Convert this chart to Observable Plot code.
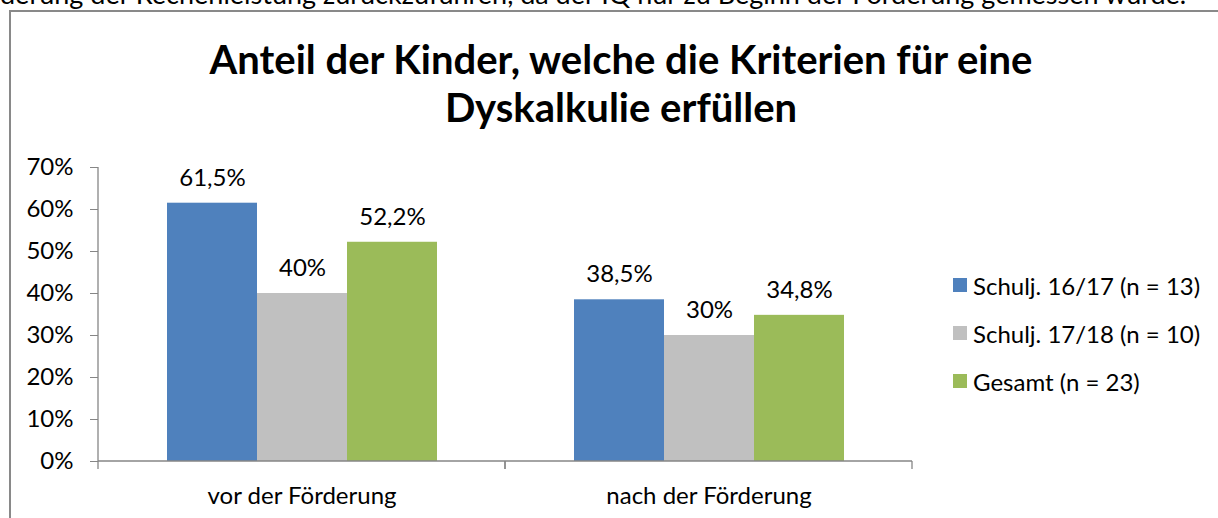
<!DOCTYPE html>
<html><head><meta charset="utf-8">
<script src="https://cdn.jsdelivr.net/npm/d3@7"></script>
<script src="https://cdn.jsdelivr.net/npm/@observablehq/plot@0.6"></script>
<style>
html,body{margin:0;padding:0;background:#fff;}
#page{position:relative;width:1218px;height:518px;overflow:hidden;background:#fff;font-family:Lato,sans-serif;color:#000;}
#top{position:absolute;left:0;top:-20px;font-size:27px;line-height:27px;white-space:nowrap;}
#frame{position:absolute;left:9px;top:10px;width:1400px;height:700px;border:2px solid #898989;box-sizing:border-box;}
#title{position:absolute;left:0;width:1242px;top:35px;text-align:center;font-weight:bold;font-size:40px;line-height:48px;}
#chart{position:absolute;left:0;top:140px;}
#legend{position:absolute;left:953px;top:261px;font-size:24px;}
.item{display:flex;align-items:center;height:48px;white-space:nowrap;}
.sw{width:14px;height:14px;margin-right:6px;flex:none;}
</style>
</head><body>
<div id="page">
  <div id="top">derung der Rechenleistung zurückzuführen, da der IQ nur zu Beginn der Förderung gemessen wurde.</div>
  <div id="frame"></div>
  <div id="title">Anteil der Kinder, welche die Kriterien für eine<br>Dyskalkulie erfüllen</div>
  <div id="chart"></div>
  <div id="legend"></div>
</div>
<script>
// ---- data ----
const categories = ["vor der Förderung", "nach der Förderung"];
const series = ["Schulj. 16/17 (n = 13)", "Schulj. 17/18 (n = 10)", "Gesamt (n = 23)"];
const colors = ["#4F81BD", "#C0C0C0", "#9BBB59"];
const schulj1617 = [61.5, 38.5];
const schulj1718 = [40, 30];
const gesamt = [52.2, 34.8];
const yTicks = [0, 10, 20, 30, 40, 50, 60, 70];
const yTickLabels = ["0%", "10%", "20%", "30%", "40%", "50%", "60%", "70%"];

const seriesValues = [schulj1617, schulj1718, gesamt];
const rows = [];
categories.forEach((c, i) => {
  series.forEach((s, j) => {
    const v = seriesValues[j][i];
    rows.push({category: c, series: s, value: v, label: String(v).replace(".", ",") + "%"});
  });
});

const axisColor = "#868686";
let facetNo = 0;
function axisDecor(index, scales) {
  const [x0, x1] = scales.x.range();
  const y0 = scales.y(0), yTop = scales.y(70);
  const g = d3.create("svg:g").attr("stroke", axisColor).attr("stroke-width", 1.3).attr("fill", "none");
  g.append("line").attr("x1", x0).attr("x2", x1).attr("y1", y0).attr("y2", y0);
  g.append("line").attr("x1", x0).attr("x2", x0).attr("y1", y0).attr("y2", y0 + 8);
  g.append("line").attr("x1", x1).attr("x2", x1).attr("y1", y0).attr("y2", y0 + 8);
  if (facetNo++ === 0) g.append("line").attr("x1", x0).attr("x2", x0).attr("y1", yTop).attr("y2", y0);
  return g.node();
}

const chart = Plot.plot({
  width: 940,
  height: 371,
  marginLeft: 98,
  marginRight: 28,
  marginTop: 27,
  marginBottom: 50,
  style: {fontFamily: "Lato, sans-serif", fontSize: "24px", color: "#000", background: "transparent"},
  fx: {domain: categories, padding: 0},
  x: {domain: series, paddingInner: 0, paddingOuter: 0.76, axis: null},
  y: {domain: [0, 70]},
  color: {domain: series, range: colors},
  marks: [
    Plot.barY(rows, {fx: "category", x: "series", y: "value", fill: "series"}),
    Plot.text(rows, {fx: "category", x: "series", y: "value", text: "label", dy: -25, fill: "#000"}),
    axisDecor,
    Plot.axisY(yTicks, {tickSize: 8, tickPadding: 17, tickFormat: (d, i) => yTickLabels[i], stroke: axisColor, fill: "#000", label: null}),
    Plot.axisFx({anchor: "bottom", tickSize: 0, tickPadding: 25, label: null, fill: "#000"})
  ]
});
document.getElementById("chart").appendChild(chart);

const legend = document.getElementById("legend");
series.forEach((s, j) => {
  const item = document.createElement("div");
  item.className = "item";
  const sw = document.createElement("span");
  sw.className = "sw";
  sw.style.background = colors[j];
  const t = document.createElement("span");
  t.textContent = s;
  item.appendChild(sw); item.appendChild(t);
  legend.appendChild(item);
});
</script>
</body></html>
